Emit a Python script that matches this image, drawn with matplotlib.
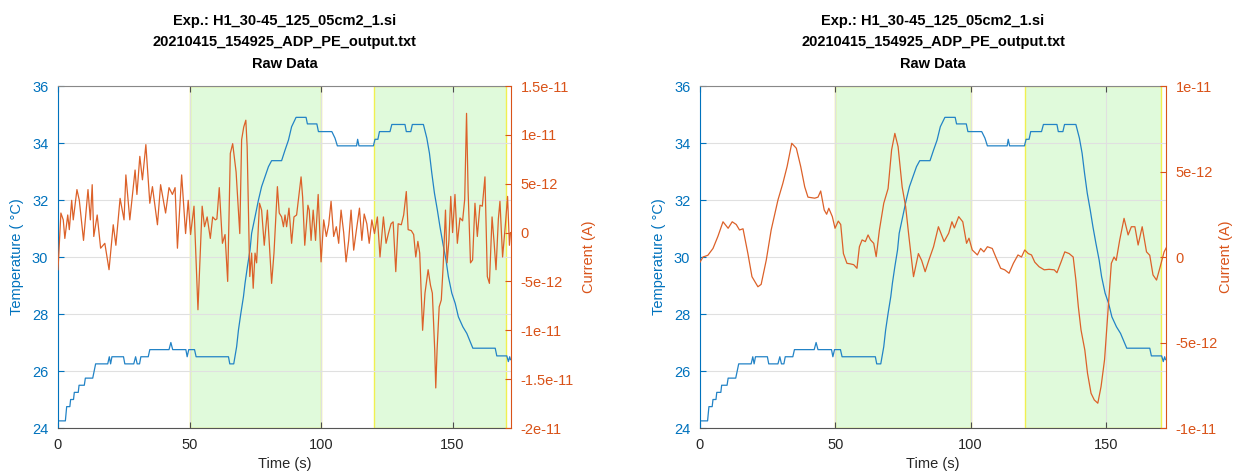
import matplotlib
matplotlib.use("Agg")
import matplotlib.pyplot as plt

plt.rcParams['font.family'] = ['Liberation Sans', 'DejaVu Sans']

# temperature (shared by both panels)
temp_t = [0, 2.8, 3.3, 4.5, 4.8, 5.9, 6.2, 7.7, 8.0, 10.0, 10.4, 13.2, 14.3, 18.9, 19.5, 20.0,
          20.5, 24.9, 25.4, 28.8, 29.5, 30.1, 31.0, 31.5, 34.3, 34.9, 42.2, 42.9, 43.6, 48.6,
          49.1, 49.7, 51.9, 52.5, 64.8, 65.3, 66.8, 67.9, 68.6, 69.5, 70.5, 71.1, 72.0, 73.0,
          73.6, 74.9, 76.2, 77.4, 78.7, 80.0, 81.2, 85.0, 86.3, 87.6, 88.8, 90.5, 94.3, 94.8,
          98.4, 99.0, 104.1, 105.3, 106.2, 113.5, 113.9, 114.4, 119.9, 120.5, 121.6, 122.2,
          126.2, 126.9, 131.9, 132.4, 134.1, 134.7, 138.9, 140.2, 141.2, 142.1, 143.1, 144.2,
          145.2, 146.3, 147.5, 148.4, 149.7, 151.0, 152.2, 153.9, 155.4, 157.7, 166.2, 166.8,
          170.6, 171.2, 171.7, 172.0]
temp_v = [24.25, 24.25, 24.75, 24.75, 25.0, 25.0, 25.25, 25.25, 25.5, 25.5, 25.75, 25.75, 26.25,
          26.25, 26.5, 26.25, 26.5, 26.5, 26.25, 26.25, 26.5, 26.25, 26.25, 26.5, 26.5, 26.75,
          26.75, 27.0, 26.75, 26.75, 26.5, 26.75, 26.75, 26.5, 26.5, 26.25, 26.25, 26.85, 27.44,
          28.02, 28.61, 29.08, 29.66, 30.25, 30.83, 31.41, 32.0, 32.47, 32.82, 33.17, 33.38,
          33.38, 33.75, 34.1, 34.57, 34.9, 34.9, 34.67, 34.67, 34.4, 34.4, 34.17, 33.9, 33.9,
          34.13, 33.9, 33.9, 34.13, 34.13, 34.4, 34.4, 34.65, 34.65, 34.4, 34.4, 34.65, 34.65,
          34.17, 33.64, 32.94, 32.24, 31.65, 31.06, 30.48, 29.89, 29.31, 28.73, 28.37, 27.9,
          27.55, 27.32, 26.8, 26.8, 26.53, 26.53, 26.33, 26.5, 26.4]

# raw current, pA
raw_t = [0.0, 1.1, 2.0, 2.6, 3.7, 4.3, 5.2, 5.8, 7.2, 8.1, 9.7, 11.4, 12.3, 13.0, 13.6, 14.9,
         16.2, 17.8, 19.4, 21.0, 22.0, 23.6, 25.1, 25.8, 27.3, 29.3, 30.0, 31.1, 32.1, 33.4,
         34.9, 35.9, 37.8, 39.0, 40.9, 42.2, 43.5, 44.5, 45.4, 47.0, 48.5, 49.5, 50.4, 51.7,
         53.2, 54.8, 55.7, 56.7, 57.9, 58.8, 59.8, 60.4, 61.3, 62.5, 63.5, 64.5, 65.5, 66.4,
         67.7, 69.1, 69.8, 70.6, 71.4, 71.9, 72.9, 73.6, 74.2, 74.9, 75.5, 76.6, 77.4, 78.4,
         79.6, 81.2, 82.1, 83.4, 84.1, 85.0, 85.7, 86.3, 86.9, 87.8, 88.8, 89.7, 90.7, 91.6,
         92.4, 93.0, 93.8, 95.0, 95.5, 96.2, 97.0, 97.9, 98.9, 100.0, 101.0, 102.0, 102.9,
         103.8, 104.8, 105.8, 106.7, 107.6, 108.6, 109.5, 110.5, 111.4, 112.4, 113.4, 114.6,
         115.5, 116.4, 117.4, 118.3, 119.3, 120.3, 121.4, 122.4, 123.7, 124.7, 125.6, 126.6,
         127.4, 128.4, 129.3, 130.5, 131.4, 132.4, 133.1, 134.3, 135.2, 136.0, 136.8, 137.5,
         138.6, 139.5, 140.1, 140.7, 141.6, 142.3, 143.2, 143.6, 144.1, 144.9, 145.7, 146.4,
         147.3, 147.9, 148.6, 149.3, 150.0, 150.9, 151.8, 152.8, 153.8, 154.6, 155.3, 155.9,
         156.8, 157.6, 158.5, 159.4, 160.4, 161.3, 162.3, 163.2, 164.0, 165.0, 165.8, 166.5,
         167.4, 168.0, 169.0, 170.0, 170.9, 171.6, 172.0]
raw_v = [-3.8, 2.0, 1.3, -0.6, 1.8, 0.3, 3.3, 1.3, 4.4, 3.3, -0.8, 4.4, 1.3, 4.9, -0.4, 1.8,
         -1.6, -1.1, -3.8, 0.8, -1.3, 3.5, 1.3, 5.9, 1.3, 6.4, 3.9, 7.8, 5.4, 9.0,
         3.0, 4.7, 0.8, 4.9, 2.0, 4.6, 3.9, 4.6, -1.6, 5.9, -0.1, 3.3, -0.2, 2.7,
         -7.9, 2.7, 0.6, 1.6, -0.6, 1.6, 1.3, 1.4, 4.6, -1.1, -0.2, -5.0, 8.1, 9.1,
         6.2, -0.1, 9.5, 10.8, 11.5, 8.8, -4.5, -2.1, -5.7, -2.1, -3.1, 3.0, 2.3, -1.3,
         2.3, -5.2, -2.1, 4.7, 2.0, 1.6, 0.6, 1.8, 0.6, 2.5, -1.1, 1.6, 1.8, 3.9,
         5.7, 3.6, -1.3, 2.8, 2.3, -0.8, 2.3, -0.8, 3.9, -3.0, 1.3, -0.4, 0.8,
         3.2, -0.4, 0.6, -1.1, 2.3, 0.0, -3.0, -0.8, 2.3, -1.8, 0.2, 2.5,
         -0.8, 1.9, 0.9, -1.1, 1.3, -0.1, 1.6, -2.5, 1.6, -1.1, -0.1, 0.9,
         1.1, -4.0, 0.9, 0.8, 1.8, 4.2, 0.3, 0.2, -0.2, -2.5, -0.9, -2.1,
         -10.0, -6.2, -5.0, -3.8, -5.4, -6.2, -12.0, -15.9, -12.0, -7.6, -6.9, -3.5,
         2.3, -3.1, -0.8, 3.7, 0.0, 3.9, -1.1, 1.5, 1.2, 3.4, 12.2, 4.2,
         -3.1, -2.8, 3.0, -0.4, 2.8, 2.7, 5.7, -4.5, -5.2, 1.6, -1.1, -3.8,
         1.4, 3.2, -2.5, 0.6, 3.7, -1.3, 0.0]

# smoothed current, pA
smooth_t = [0.0, 1.1, 2.9, 4.8, 6.6, 8.5, 10.4, 11.9, 13.4, 14.6, 15.9, 17.7, 19.2, 21.4, 22.6,
            24.5, 26.3, 28.8, 30.6, 32.2, 33.9, 35.6, 37.2, 38.7, 39.9, 42.4, 43.6, 44.6, 45.9,
            46.8, 47.6, 48.9, 49.9, 51.1, 52.0, 53.0, 54.3, 55.5, 56.8, 58.0, 58.9, 59.9, 61.1,
            62.1, 63.0, 64.2, 65.1, 66.3, 67.9, 69.5, 70.8, 72.0, 73.2, 74.7, 76.0, 77.2, 78.9,
            80.7, 81.9, 83.2, 84.6, 86.3, 88.1, 90.2, 91.9, 93.1, 94.0, 95.6, 97.1, 98.5, 99.4,
            100.6, 102.5, 103.7, 104.9, 106.2, 108.0, 109.3, 111.1, 112.6, 114.2, 115.8, 117.5,
            118.8, 120.0, 121.3, 122.5, 123.7, 125.3, 127.2, 129.0, 130.9, 131.9, 133.4, 134.8,
            136.4, 137.9, 138.9, 139.8, 140.8, 142.2, 143.2, 144.5, 145.7, 147.0, 148.2, 149.5,
            150.7, 152.0, 153.0, 153.8, 155.1, 156.7, 158.2, 159.4, 160.7, 161.9, 163.4, 165.0,
            166.2, 167.4, 168.7, 169.9, 171.5, 172.5]
smooth_v = [-0.3, 0.0, 0.1, 0.5, 1.2, 2.06, 1.68, 2.06, 1.9, 1.58, 1.65, 0.2, -1.15, -1.74, -1.6,
            -0.17, 1.58, 3.33, 4.3, 5.3, 6.65, 6.36, 5.3, 4.1, 3.5, 3.44, 3.5, 3.86, 2.75,
            2.5, 2.85, 2.36, 1.68, 2.1, 1.9, 0.2, -0.37, -0.4, -0.45, -0.66, 0.6, 1.0, 0.9,
            1.29, 1.0, 0.8, 0.02, 1.58, 3.14, 4.0, 6.26, 7.23, 6.45, 4.1, 2.94, 1.19, -1.15,
            0.2, -0.2, -0.86, -0.17, 0.6, 1.77, 0.9, 1.39, 2.06, 1.7, 2.36, 2.06, 0.8, 1.1,
            0.41, 0.12, 0.5, 0.3, 0.6, 0.5, 0.0, -0.66, -0.75, -0.95, -0.37, 0.12,
            0.0, 0.41, 0.2, 0.12, -0.3, -0.57, -0.75, -0.72, -0.75, -0.92, -0.3, 0.3,
            0.2, 0.0, -1.35, -2.9, -4.27, -5.44, -6.8, -7.97, -8.36, -8.55, -7.58, -6.0,
            -3.3, -0.37, 0.0, -0.2, 1.0, 2.26, 1.29, 1.77, 1.77, 0.7, 1.77, 0.3,
            0.1, -1.05, -1.35, -0.66, 0.3, 0.6]

stim_windows = [(50, 100), (120, 170.4)]
title = "Exp.: H1_30-45_125_05cm2_1.si\n20210415_154925_ADP_PE_output.txt\nRaw Data"

blue = '#0072BD'
orange = '#D95319'
W, H = 1235, 472


def panel(rect, cur_t, cur_v, cur_lim, cur_ticks, cur_labels, rpad):
    ax = fig.add_axes(rect)
    ax.set_xlim(0, 172.2)
    ax.set_ylim(24, 36)
    for a, b in stim_windows:
        ax.axvspan(a, b, facecolor='#e0fadb', edgecolor='#f0f050', lw=1.0, zorder=0.5)
    ax.grid(True, color='#e0e0e0', lw=0.8)
    ax.plot(temp_t, temp_v, color='#2283c6', lw=0.9)
    ax.set_xticks([0, 50, 100, 150])
    ax.set_yticks([24, 26, 28, 30, 32, 34, 36])
    ax.tick_params(axis='x', direction='in', length=4, top=True, labelsize=10.5,
                   colors='#4d4d4d', labelcolor='#262626', pad=7)
    ax.tick_params(axis='y', direction='in', length=4, labelsize=10.5, colors=blue, pad=7)
    ax.set_xlabel("Time (s)", fontsize=10.5, color='#262626', labelpad=4)
    ax.set_ylabel("Temperature ( °C)", fontsize=10.5, color=blue, labelpad=6)
    ax.spines['left'].set_color(blue)
    ax.spines['bottom'].set_color('#555555')
    ax.spines['top'].set_color('#888888')
    ax.spines['right'].set_visible(False)
    ax.set_title(title, fontsize=10.5, fontweight='bold', linespacing=1.7, pad=13)

    axr = ax.twinx()
    axr.plot(cur_t, [v * 1e-12 for v in cur_v], color='#dc6129', lw=0.9)
    axr.set_ylim(*cur_lim)
    axr.set_yticks(cur_ticks)
    axr.set_yticklabels(cur_labels)
    axr.tick_params(axis='y', direction='in', length=4, labelsize=10.5, colors=orange, pad=7)
    axr.set_ylabel("Current (A)", fontsize=10.5, color=orange, labelpad=rpad)
    axr.spines['right'].set_color(orange)
    for s in ['left', 'top', 'bottom']:
        axr.spines[s].set_visible(False)
    return ax


fig = plt.figure(figsize=(12.35, 4.72), dpi=100)

panel([58 / W, 44 / H, 453 / W, 342 / H], raw_t, raw_v, (-2e-11, 1.5e-11),
      [-2e-11, -1.5e-11, -1e-11, -5e-12, 0, 5e-12, 1e-11, 1.5e-11],
      ['-2e-11', '-1.5e-11', '-1e-11', '-5e-12', '0', '5e-12', '1e-11', '1.5e-11'], 6)
panel([700 / W, 44 / H, 466 / W, 342 / H], smooth_t, smooth_v, (-1e-11, 1e-11),
      [-1e-11, -5e-12, 0, 5e-12, 1e-11],
      ['-1e-11', '-5e-12', '0', '5e-12', '1e-11'], 1)

fig.savefig("out.png", dpi=100)
